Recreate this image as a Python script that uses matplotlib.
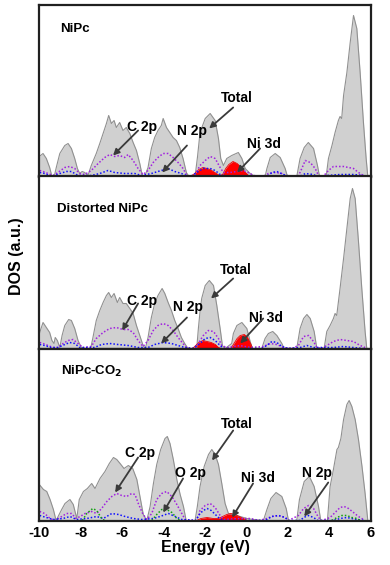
import numpy as np
import matplotlib
matplotlib.use("Agg")
import matplotlib.pyplot as plt

plt.rcParams['font.family'] = ['Liberation Sans', 'DejaVu Sans']
plt.rcParams['font.weight'] = 'bold'

nan = np.nan

# ---------------- NiPc ----------------
tot1 = [(-10.0, 20), (-9.82, 23), (-9.66, 18), (-9.5, 9), (-9.39, 0), (-9.28, 0), (-9.18, 9),
        (-9.01, 23), (-8.77, 31), (-8.61, 33), (-8.45, 28), (-8.29, 18), (-8.16, 8), (-8.05, 3),
        (-7.93, 5), (-7.81, 4), (-7.65, 1), (-7.49, 11), (-7.25, 23), (-7.08, 33), (-6.92, 43),
        (-6.76, 53), (-6.65, 61), (-6.52, 53), (-6.39, 56), (-6.28, 49), (-6.12, 54), (-5.96, 46),
        (-5.8, 49), (-5.63, 43), (-5.47, 34), (-5.31, 26), (-5.15, 13), (-5.04, 2), (-4.91, 0),
        (-4.75, 9), (-4.59, 28), (-4.43, 39), (-4.27, 46), (-4.11, 51), (-4.02, 58), (-3.86, 49),
        (-3.7, 44), (-3.54, 39), (-3.38, 36), (-3.22, 29), (-3.06, 18), (-2.9, 4), (-2.78, 0),
        (-2.48, 0), (-2.36, 20), (-2.24, 44), (-1.99, 58), (-1.75, 63), (-1.51, 56), (-1.35, 38),
        (-1.24, 18), (-1.11, 11), (-0.95, 18), (-0.71, 21), (-0.39, 24), (-0.22, 18), (-0.06, 8),
        (0.18, 3), (0.42, 0), (0.9, 0), (0.99, 8), (1.15, 19), (1.39, 23), (1.63, 19), (1.87, 8),
        (1.98, 0), (2.43, 0), (2.59, 18), (2.79, 29), (2.99, 34), (3.24, 28), (3.43, 11), (3.53, 0),
        (3.85, 0), (3.96, 18), (4.13, 31), (4.28, 44), (4.44, 56), (4.52, 60), (4.6, 58), (4.69, 81),
        (4.85, 104), (5.01, 134), (5.17, 161), (5.33, 148), (5.49, 104), (5.65, 54), (5.78, 18),
        (5.86, 0)]
c2p1 = [(-9.98, 6), (-9.82, 5), (-9.58, 3), (-9.34, 1), (-9.1, 4), (-8.77, 9), (-8.53, 10),
        (-8.29, 8), (-8.05, 3), (-7.81, 2), (-7.49, 6), (-7.16, 13), (-6.84, 19), (-6.6, 22),
        (-6.36, 20), (-6.12, 21), (-5.88, 19), (-5.71, 22), (-5.47, 16), (-5.23, 8), (-4.99, 2),
        (-4.75, 6), (-4.5, 14), (-4.27, 19), (-4.02, 23), (-3.78, 23), (-3.54, 19), (-3.3, 14),
        (-3.06, 8), (-2.9, 2), (-2.7, 0), (-2.45, 3), (-2.24, 11), (-1.99, 16), (-1.75, 20),
        (-1.51, 18), (-1.27, 9), (-1.11, 4), (-0.79, 4), (-0.14, 6), (0.18, 3), (0.34, 1), (0.8, 0),
        (1.06, 3), (1.39, 4), (1.71, 3), (1.95, 0), (2.45, 0), (2.59, 4), (2.84, 16), (3.08, 14),
        (3.32, 8), (3.48, 1), (3.7, 0), (3.96, 6), (4.2, 10), (4.44, 10), (4.69, 10), (4.93, 9),
        (5.17, 8), (5.41, 4), (5.65, 1)]
n2p1 = [(-9.98, 4), (-9.74, 3), (-9.42, 0), (-9.01, 3), (-8.69, 5), (-8.45, 5), (-8.13, 1),
        (-7.49, 1), (-7.08, 3), (-6.68, 6), (-6.36, 4), (-5.88, 3), (-5.39, 3), (-5.07, 1),
        (-4.59, 3), (-4.27, 5), (-3.78, 8), (-3.46, 5), (-3.14, 3), (-2.9, 1), (-2.7, 0),
        (-2.24, 6), (-2.08, 8), (-1.75, 8), (-1.51, 6), (-1.27, 2), (-0.95, 0), (0.98, 0),
        (1.23, 4), (1.47, 5), (1.79, 2), (2.11, 0), (2.68, 1), (2.84, 3), (3.24, 2), (3.4, 0),
        (3.88, 1), (4.52, 2), (5.17, 2), (5.65, 1)]
ni1 = [(-2.7, 0), (-2.5, 3), (-2.3, 7), (-2.1, 9), (-1.9, 8), (-1.75, 7), (-1.6, 5), (-1.45, 3),
       (-1.3, 1), (-1.15, 2), (-1.0, 8), (-0.85, 12), (-0.65, 15), (-0.45, 13), (-0.25, 9),
       (-0.05, 4), (0.1, 1), (0.2, 0)]

# ---------------- Distorted NiPc ----------------
tot2 = [(-9.98, 16), (-9.82, 26), (-9.66, 21), (-9.5, 16), (-9.39, 8), (-9.29, 5), (-9.23, 11),
        (-9.13, 8), (-9.01, 1), (-8.9, 13), (-8.77, 23), (-8.58, 29), (-8.45, 28), (-8.29, 20),
        (-8.13, 8), (-7.97, 1), (-7.73, 0), (-7.52, 0), (-7.41, 11), (-7.25, 28), (-7.08, 38),
        (-6.92, 46), (-6.76, 53), (-6.65, 56), (-6.52, 51), (-6.39, 55), (-6.23, 46), (-6.12, 51),
        (-5.96, 45), (-5.8, 45), (-5.63, 40), (-5.47, 35), (-5.31, 23), (-5.15, 13), (-4.99, 3),
        (-4.88, 0), (-4.75, 11), (-4.59, 31), (-4.43, 45), (-4.27, 53), (-4.07, 60), (-3.94, 55),
        (-3.78, 46), (-3.62, 38), (-3.46, 28), (-3.3, 20), (-3.14, 11), (-2.98, 5), (-2.82, 0),
        (-2.4, 0), (-2.32, 20), (-2.24, 37), (-2.16, 50), (-1.99, 63), (-1.79, 68), (-1.59, 63),
        (-1.43, 43), (-1.27, 20), (-1.16, 3), (-1.03, 0), (-0.71, 5), (-0.63, 15), (-0.46, 23),
        (-0.22, 26), (0.02, 20), (0.18, 7), (0.29, 0), (0.74, 0), (0.9, 10), (1.06, 15), (1.27, 17),
        (1.47, 13), (1.71, 5), (1.82, 0), (2.43, 0), (2.59, 20), (2.76, 30), (2.92, 34), (3.08, 30),
        (3.27, 17), (3.4, 0), (3.75, 0), (3.88, 17), (4.04, 23), (4.2, 30), (4.28, 35), (4.36, 33),
        (4.52, 60), (4.69, 90), (4.85, 120), (5.01, 150), (5.12, 160), (5.25, 150), (5.41, 107),
        (5.57, 60), (5.73, 17), (5.81, 0)]
c2p2 = [(-9.98, 6), (-9.82, 5), (-9.58, 3), (-9.34, 1), (-9.1, 1), (-8.85, 5), (-8.61, 8),
        (-8.37, 9), (-8.13, 5), (-7.89, 1), (-7.49, 2), (-7.25, 10), (-6.92, 16), (-6.6, 20),
        (-6.28, 21), (-5.96, 19), (-5.71, 19), (-5.47, 16), (-5.23, 8), (-4.99, 2), (-4.75, 8),
        (-4.5, 18), (-4.27, 23), (-4.02, 25), (-3.78, 23), (-3.54, 18), (-3.3, 11), (-3.06, 5),
        (-2.9, 1), (-2.6, 0), (-2.4, 2), (-2.24, 8), (-2.08, 13), (-1.84, 18), (-1.59, 17),
        (-1.35, 10), (-1.19, 3), (-0.95, 1), (-0.63, 2), (-0.3, 3), (0.18, 1), (0.82, 2), (1.15, 5),
        (1.47, 4), (1.79, 1), (2.19, 0), (2.51, 3), (2.76, 12), (3.0, 13), (3.24, 7), (3.4, 1),
        (3.64, 0), (3.88, 3), (4.2, 7), (4.52, 9), (4.85, 8), (5.17, 7), (5.49, 3), (5.73, 1)]
n2p2 = [(-9.98, 4), (-9.74, 3), (-9.42, 1), (-9.1, 1), (-8.77, 4), (-8.53, 6), (-8.29, 5),
        (-8.05, 1), (-7.33, 1), (-7.0, 4), (-6.6, 5), (-6.2, 4), (-5.71, 3), (-5.23, 1), (-4.75, 1),
        (-4.43, 4), (-4.02, 6), (-3.62, 5), (-3.3, 3), (-2.98, 1), (-2.6, 0), (-2.24, 5),
        (-1.99, 10), (-1.75, 11), (-1.51, 8), (-1.27, 3), (-1.11, 0), (0.74, 0), (0.98, 3),
        (1.23, 7), (1.47, 6), (1.71, 2), (2.03, 0), (2.59, 1), (2.92, 3), (3.24, 1), (4.2, 1),
        (4.69, 2), (5.65, 0)]
ni2 = [(-2.6, 0), (-2.45, 3), (-2.3, 6), (-2.1, 8), (-1.9, 7), (-1.7, 6), (-1.5, 4), (-1.35, 1),
       (-1.2, 0), (-0.75, 0), (-0.6, 5), (-0.45, 10), (-0.3, 13), (-0.1, 14), (0.05, 11),
       (0.2, 5), (0.3, 0)]

# ---------------- NiPc-CO2 ----------------
tot3 = [(-10.0, 36), (-9.8, 31), (-9.64, 29), (-9.48, 21), (-9.32, 11), (-9.19, 0), (-8.92, 11),
        (-8.76, 17), (-8.52, 21), (-8.36, 16), (-8.19, 2), (-8.07, 21), (-7.87, 29), (-7.68, 32),
        (-7.47, 37), (-7.31, 32), (-7.07, 42), (-6.83, 49), (-6.62, 57), (-6.42, 63), (-6.26, 61),
        (-6.1, 57), (-5.91, 52), (-5.7, 55), (-5.49, 52), (-5.29, 41), (-5.14, 24), (-4.98, 6),
        (-4.81, 0), (-4.65, 14), (-4.49, 37), (-4.33, 56), (-4.14, 71), (-3.93, 82), (-3.82, 84),
        (-3.69, 77), (-3.53, 61), (-3.36, 41), (-3.2, 26), (-3.04, 14), (-2.91, 0), (-2.48, 0),
        (-2.37, 14), (-2.24, 34), (-2.04, 54), (-1.83, 66), (-1.67, 71), (-1.51, 66), (-1.35, 56),
        (-1.19, 37), (-1.03, 17), (-0.87, 7), (-0.63, 6), (-0.3, 4), (0.02, 2), (0.34, 1), (0.82, 0),
        (0.99, 11), (1.18, 22), (1.43, 28), (1.71, 24), (1.92, 12), (2.03, 0), (2.43, 0), (2.56, 21),
        (2.79, 39), (3.04, 44), (3.27, 34), (3.48, 14), (3.59, 0), (3.91, 0), (4.04, 34), (4.2, 51),
        (4.37, 71), (4.44, 73), (4.56, 82), (4.69, 101), (4.85, 116), (4.96, 120), (5.09, 114),
        (5.25, 101), (5.41, 81), (5.58, 54), (5.73, 27), (5.86, 0)]
c2p3 = [(-9.98, 9), (-9.74, 7), (-9.48, 2), (-9.24, 0), (-8.92, 4), (-8.68, 7), (-8.44, 7),
        (-8.23, 2), (-8.03, 4), (-7.79, 7), (-7.47, 9), (-7.23, 7), (-6.99, 12), (-6.74, 19),
        (-6.5, 24), (-6.26, 27), (-6.02, 25), (-5.78, 24), (-5.54, 27), (-5.38, 26), (-5.22, 17),
        (-5.01, 7), (-4.81, 1), (-4.57, 7), (-4.33, 21), (-4.09, 27), (-3.85, 29), (-3.6, 24),
        (-3.36, 16), (-3.12, 7), (-2.96, 1), (-2.45, 0), (-2.3, 5), (-2.24, 10), (-1.99, 15),
        (-1.75, 17), (-1.51, 13), (-1.27, 5), (-1.1, 1), (-0.3, 2), (0.2, 2), (0.6, 0), (0.98, 2),
        (1.23, 4), (1.55, 5), (1.87, 3), (2.03, 0), (2.51, 5), (2.76, 12), (3.0, 15), (3.24, 12),
        (3.48, 3), (3.64, 0), (4.04, 3), (4.28, 8), (4.52, 13), (4.72, 14), (4.93, 12), (5.17, 8),
        (5.41, 4), (5.65, 1)]
n2p3 = [(-9.98, 5), (-9.66, 3), (-9.34, 1), (-8.85, 2), (-8.52, 4), (-8.2, 1), (-7.71, 2),
        (-7.23, 4), (-6.91, 2), (-6.5, 7), (-6.18, 6), (-5.86, 4), (-5.46, 2), (-5.05, 1),
        (-4.49, 2), (-4.17, 4), (-3.77, 7), (-3.44, 4), (-3.12, 1), (-2.45, 0), (-2.24, 7),
        (-2.08, 10), (-1.9, 12), (-1.7, 10), (-1.5, 6), (-1.3, 2), (-1.1, 0), (0.9, 0), (1.23, 4),
        (1.55, 5), (1.87, 3), (2.03, 0), (2.6, 0), (2.76, 3), (3.0, 5), (3.24, 3), (3.45, 0),
        (4.2, 0), (4.52, 2), (4.85, 3), (5.33, 1), (5.7, 0)]
o2p3 = [(-7.92, 0), (-7.71, 7), (-7.42, 12), (-7.23, 10), (-6.99, 2), (-6.85, 0), (nan, nan),
        (-4.57, 0), (-4.33, 6), (-4.09, 11), (-3.85, 11), (-3.6, 8), (-3.36, 2), (-3.2, 0),
        (nan, nan), (4.13, 0), (4.37, 3), (4.61, 5), (4.85, 5), (5.09, 3), (5.33, 2), (5.5, 0)]
ni3 = [(-2.4, 0), (-2.2, 2), (-1.9, 3), (-1.6, 2), (-1.35, 2), (-1.15, 4), (-0.95, 6), (-0.75, 7),
       (-0.55, 6), (-0.35, 4), (-0.15, 2), (0.05, 0)]

xticks = [-10, -8, -6, -4, -2, 0, 2, 4, 6]

panels = [
    dict(name='NiPc', tot=tot1, c2p=c2p1, n2p=n2p1, ni=ni1, o2p=None,
         notes=[('Total', (-0.46, 78), (-0.64, 69), (-1.80, 48)),
                ('C 2p', (-5.04, 49), (-5.23, 46), (-6.44, 21)),
                ('N 2p', (-2.63, 46), (-2.87, 31), (-4.07, 4)),
                ('Ni 3d', (0.86, 33), (0.66, 28), (-0.45, 4))],
         label_xy=(-9.0, 148)),
    dict(name='Distorted NiPc', tot=tot2, c2p=c2p2, n2p=n2p2, ni=ni2, o2p=None,
         notes=[('Total', (-0.5, 78), (-0.64, 70), (-1.71, 50)),
                ('C 2p', (-5.03, 48), (-5.23, 45), (-6.0, 18)),
                ('N 2p', (-2.82, 41), (-2.87, 31), (-4.12, 5)),
                ('Ni 3d', (0.96, 31), (0.81, 30), (-0.30, 5))],
         label_xy=(-9.14, 140)),
    dict(name='NiPc-CO$_\\mathbf{2}$', tot=tot3, c2p=c2p3, n2p=n2p3, ni=ni3, o2p=o2p3,
         notes=[('Total', (-0.45, 97), (-0.64, 90), (-1.66, 60)),
                ('C 2p', (-5.13, 67), (-5.23, 63), (-6.34, 28)),
                ('O 2p', (-2.72, 47), (-3.06, 42), (-4.02, 8)),
                ('Ni 3d', (0.56, 42), (0.32, 37), (-0.69, 3)),
                ('N 2p', (3.41, 48), (3.95, 38), (2.79, 4))],
         label_xy=(-8.95, 149)),
]

W, H = 390, 565
fig = plt.figure(figsize=(W / 100, H / 100), dpi=100)
left, right = 39.3, 370.7
edges = [(4.7, 176.5), (176.5, 348.5), (348.5, 520.5)]

for i, (p, (top, bot)) in enumerate(zip(panels, edges)):
    ax = fig.add_axes([left / W, 1 - bot / H, (right - left) / W, (bot - top) / H])
    ax.set_xlim(-10, 6)
    ax.set_ylim(0, bot - top)

    e, v = np.array(p['tot']).T
    ax.fill_between(e, v, color='#d0d0d0', lw=0)
    ax.plot(e, v, color='#909090', lw=0.8)

    e, v = np.array(p['ni']).T
    ax.fill_between(e, v, color='#ff0000', lw=0)
    ax.plot(e, v, color='#ee0000', lw=0.6)

    e, v = np.array(p['c2p']).T
    ax.plot(e, v, color='#a020e0', lw=1.1, ls=(0, (1, 1.3)))
    e, v = np.array(p['n2p']).T
    ax.plot(e, v, color='#1010ff', lw=1.1, ls=(0, (1, 1.3)))
    if p['o2p'] is not None:
        e, v = np.array(p['o2p']).T
        ax.plot(e, v, color='#11a011', lw=1.1, ls=(0, (1, 1.3)))

    ax.text(*p['label_xy'], p['name'], fontsize=9.5, fontweight='bold', ha='left', va='center')
    for txt, txy, tail, head in p['notes']:
        ax.text(*txy, txt, fontsize=10, fontweight='bold', ha='center', va='center')
        ax.annotate('', xy=head, xytext=tail,
                    arrowprops=dict(arrowstyle='-|>', color='#3a3a3a', lw=1.3,
                                    mutation_scale=9, shrinkA=0, shrinkB=0))

    for s in ax.spines.values():
        s.set_linewidth(1.6)
        s.set_color('#202020')
    ax.set_yticks([])
    ax.set_xticks(xticks)
    ax.tick_params(axis='x', length=0, pad=4, labelsize=10.5)
    if i < 2:
        ax.set_xticklabels([])
    else:
        ax.set_xticklabels([str(t) for t in xticks], fontweight='bold')
        ax.set_xlabel('Energy (eV)', fontsize=11.5, fontweight='bold', labelpad=0)

fig.text(17 / W, 1 - 256 / H, 'DOS (a.u.)', rotation=90, fontsize=11.5, fontweight='bold',
         ha='center', va='center')

fig.savefig('out.png', dpi=100)
